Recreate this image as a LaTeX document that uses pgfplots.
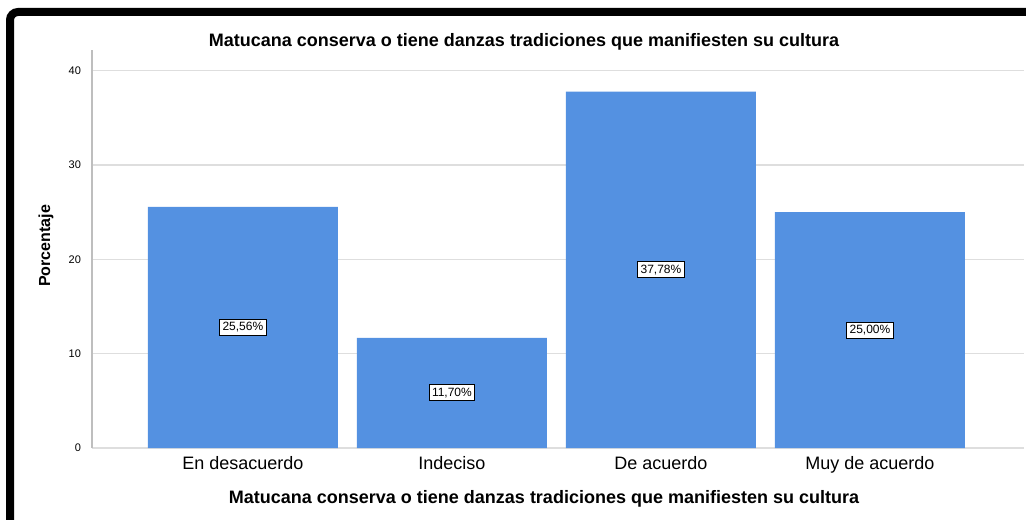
\documentclass[border=0pt]{standalone}
\usepackage{fontspec}
\setmainfont{Liberation Sans}
\usepackage{pgfplots}
\pgfplotsset{compat=1.18}
\definecolor{barblue}{RGB}{84,145,225}
\definecolor{gridgray}{RGB}{222,222,222}
\definecolor{axgray}{RGB}{190,190,190}
\begin{document}
\begin{tikzpicture}
  % page = 1026 x 519 px, 1 px = 0.5 pt
  \path[use as bounding box] (0,0) rectangle (513pt,-259.5pt);
  \draw[line width=4pt, rounded corners=4pt] (5pt,-262pt) -- (5pt,-6pt) -- (516pt,-6pt);
  \begin{axis}[
      at={(46pt,-224pt)}, anchor=south west,
      scale only axis, width=466pt, height=199pt,
      xmin=-0.722, xmax=3.737, ymin=0, ymax=42.2,
      axis lines*=left,
      x axis line style={draw=none},
      y axis line style={axgray, line width=0.6pt},
      xtick=data,
      xticklabels={En desacuerdo, Indeciso, De acuerdo, Muy de acuerdo},
      ytick={0,10,20,30,40},
      major tick length=0pt,
      ymajorgrids, grid style={gridgray, line width=0.6pt},
      tick label style={font=\fontsize{9}{10}\selectfont},
      yticklabel style={font=\fontsize{5.5}{7}\selectfont, xshift=-2pt},
      xticklabel style={yshift=-0.5pt},
      /pgf/number format/assume math mode=true,
      clip=false,
    ]
    \addplot[ybar, bar width=0.909, fill=barblue, draw=none] coordinates {
      (0,25.56) (1,11.67) (2,37.78) (3,25.00)};
    \addplot[draw=none, mark=none,
      nodes near coords, point meta=explicit symbolic,
      nodes near coords align=center,
      every node near coord/.style={fill=white, draw=black, line width=0.5pt,
        inner sep=1.5pt, font=\fontsize{6}{7}\selectfont}] coordinates {
      (0,12.78)[25,56\%] (1,5.84)[11,70\%] (2,18.89)[37,78\%] (3,12.50)[25,00\%]};
  \end{axis}
  \node[font=\bfseries\fontsize{9}{10}\selectfont] at (262pt,-21pt)
    {Matucana conserva o tiene danzas tradiciones que manifiesten su cultura};
  \node[font=\bfseries\fontsize{9}{10}\selectfont] at (272pt,-249.5pt)
    {Matucana conserva o tiene danzas tradiciones que manifiesten su cultura};
  \node[font=\bfseries\fontsize{8}{9}\selectfont, rotate=90] at (23pt,-123pt) {Porcentaje};
\end{tikzpicture}
\end{document}
